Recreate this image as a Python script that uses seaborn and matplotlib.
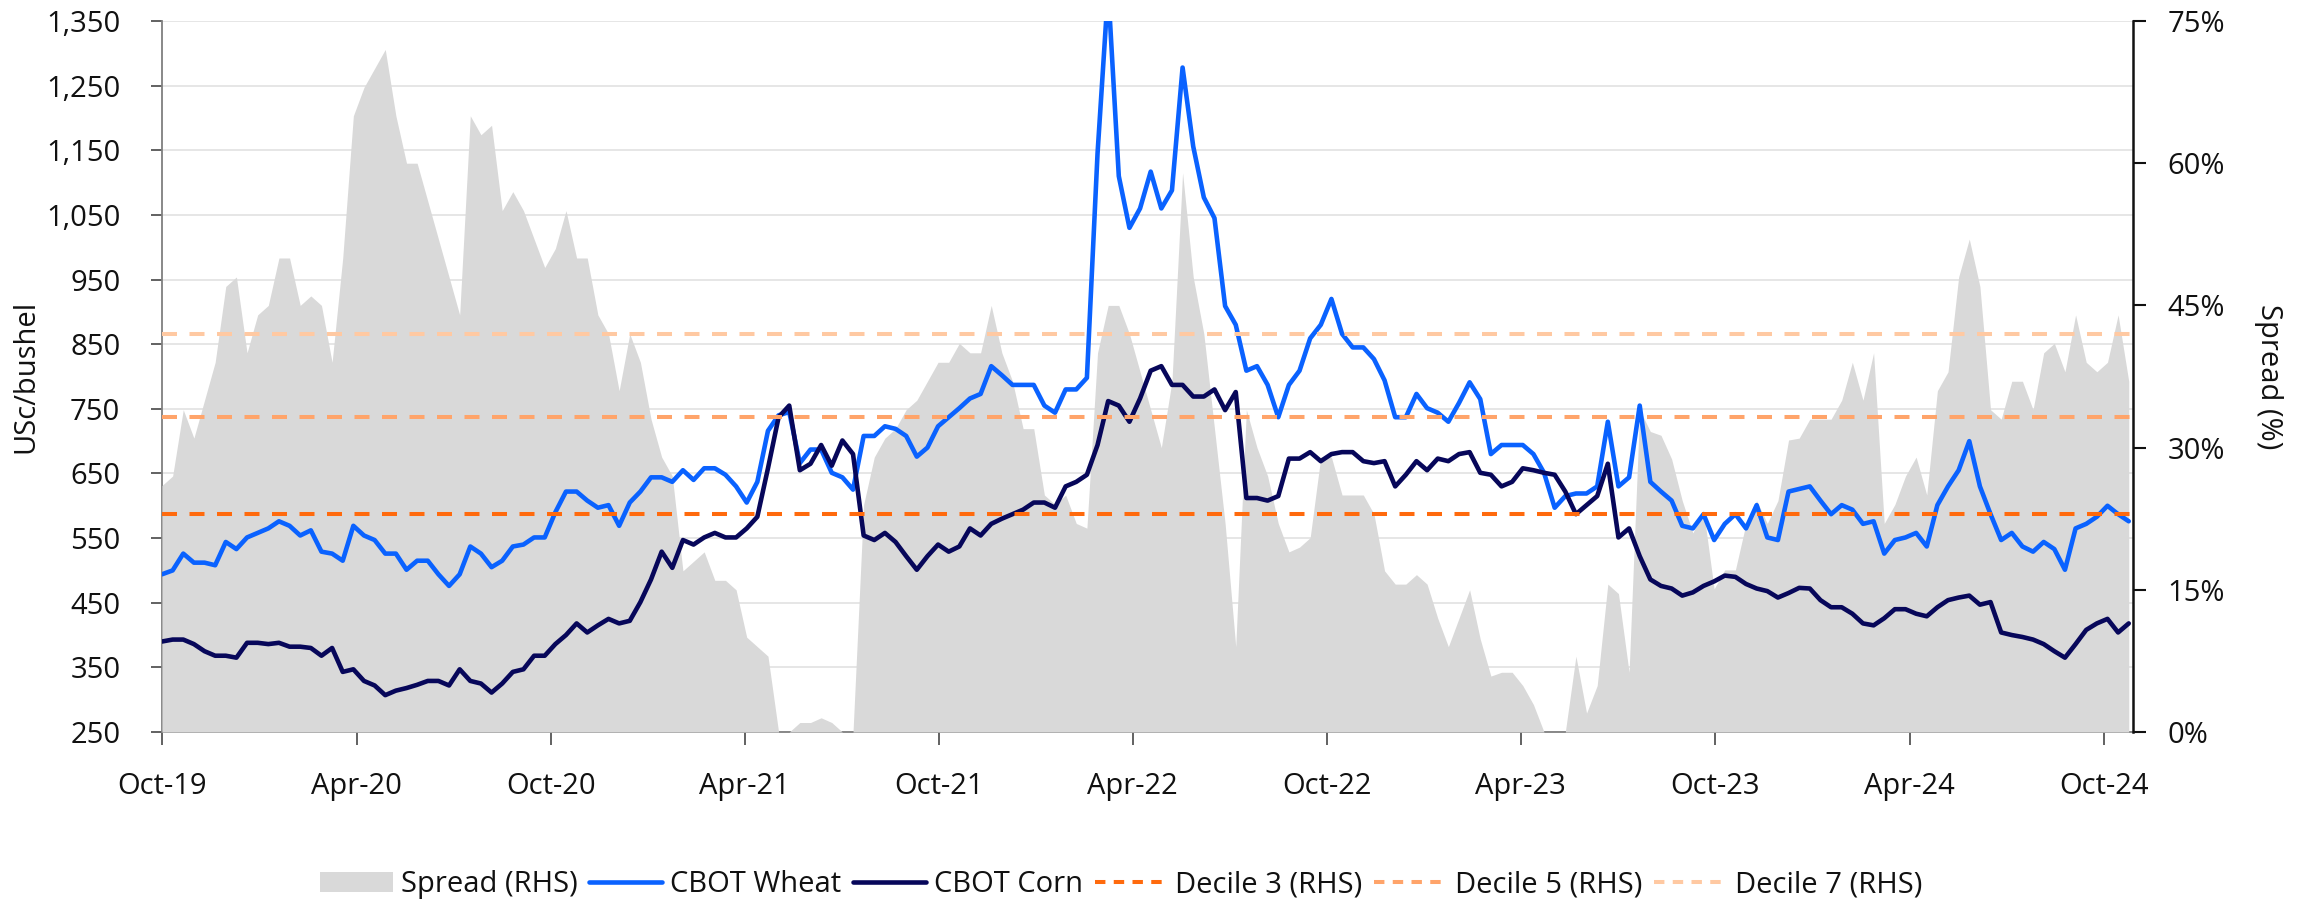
import matplotlib
matplotlib.use("Agg")
import numpy as np
import pandas as pd
import matplotlib.pyplot as plt
import matplotlib.dates as mdates
from matplotlib.ticker import FuncFormatter, FixedLocator
from matplotlib.patches import Patch
from matplotlib.lines import Line2D
import seaborn as sns

# ---------------- data (one value every 10 days) ----------------
start_date = "2019-10-01"
end_date = "2024-10-28"
step_days = 10

wheat = [
    494, 500, 526, 512, 512, 508, 544, 533, 551, 558,
    565, 576, 569, 554, 562, 529, 526, 515, 569, 554,
    547, 526, 526, 501, 515, 515, 494, 476, 494, 537,
    526, 505, 515, 537, 540, 551, 551, 590, 622, 622,
    608, 597, 601, 569, 605, 622, 644, 644, 637, 655,
    640, 658, 658, 648, 630, 605, 637, 716, 740, 745,
    666, 687, 687, 651, 644, 625, 708, 708, 723, 719,
    708, 676, 690, 723, 737, 751, 766, 773, 816, 802,
    787, 787, 787, 755, 744, 780, 780, 798, 1145, 1400,
    1110, 1030, 1060, 1117, 1060, 1088, 1278, 1156, 1077, 1045,
    909, 880, 809, 816, 787, 737, 787, 809, 859, 880,
    920, 866, 845, 845, 827, 794, 737, 737, 773, 751,
    744, 730, 759, 791, 765, 680, 694, 694, 694, 680,
    651, 597, 615, 619, 619, 630, 730, 630, 644, 755,
    637, 622, 608, 569, 565, 587, 547, 572, 587, 565,
    601, 551, 547, 622, 626, 630, 608, 587, 601, 594,
    572, 576, 526, 547, 551, 558, 537, 601, 630, 655,
    700, 630, 587, 547, 558, 537, 529, 544, 533, 501,
    565, 572, 583, 600, 587, 576,
]

corn = [
    390, 393, 393, 386, 375, 368, 368, 365, 388, 388,
    386, 388, 382, 382, 380, 368, 380, 343, 347, 329,
    322, 307, 314, 318, 323, 329, 329, 322, 347, 329,
    325, 311, 325, 343, 347, 368, 368, 386, 400, 418,
    404, 415, 425, 418, 422, 451, 486, 529, 504, 547,
    540, 551, 558, 551, 551, 565, 583, 658, 737, 755,
    655, 665, 694, 662, 701, 680, 554, 547, 558, 544,
    522, 501, 522, 540, 529, 537, 565, 554, 572, 580,
    587, 594, 605, 605, 597, 630, 637, 648, 694, 762,
    755, 730, 766, 809, 816, 787, 787, 769, 769, 780,
    748, 776, 612, 612, 608, 615, 673, 673, 683, 669,
    680, 683, 683, 669, 666, 669, 630, 648, 669, 655,
    673, 669, 680, 683, 651, 648, 630, 637, 658, 655,
    651, 648, 622, 587, 601, 615, 665, 551, 565, 522,
    486, 476, 472, 461, 466, 476, 483, 492, 490, 479,
    472, 468, 458, 465, 473, 472, 454, 443, 443, 433,
    418, 415, 426, 440, 440, 433, 429, 443, 454, 458,
    461, 447, 451, 404, 400, 397, 393, 386, 375, 365,
    386, 408, 418, 425, 404, 418,
]

spread = [
    26, 27, 34, 31, 35, 39, 47, 48, 40, 44,
    45, 50, 50, 45, 46, 45, 39, 50, 65, 68,
    70, 72, 65, 60, 60, 56, 52, 48, 44, 65,
    63, 64, 55, 57, 55, 52, 49, 51, 55, 50,
    50, 44, 42, 36, 42, 39, 33, 29, 27, 17,
    18, 19, 16, 16, 15, 10, 9, 8, 0, 0,
    1, 1, 1.5, 1, 0, 0, 24, 29, 31, 32,
    34, 35, 37, 39, 39, 41, 40, 40, 45, 40,
    37, 32, 32, 25, 24, 25, 22, 21.5, 40, 45,
    45, 42, 38, 34, 30, 37, 59, 48, 42, 32,
    22, 9, 34, 30, 27, 22, 19, 19.5, 20.5, 29,
    29, 25, 25, 25, 23, 17, 15.6, 15.6, 16.6, 15.6,
    12, 9, 12, 15, 9.8, 5.9, 6.3, 6.3, 4.9, 2.9,
    0, 0, 0, 8, 2, 4.9, 15.6, 14.6, 6.3, 34,
    31.7, 31.3, 28.8, 24.4, 21, 23.4, 15.1, 17.1, 17.1, 22,
    24.4, 22, 24.4, 30.8, 31, 33, 33, 33, 35, 39,
    35, 40, 22, 24, 27, 29, 25, 36, 38, 48,
    52, 47, 34, 33, 37, 37, 34, 40, 41, 38,
    44, 39, 38, 39, 44, 37,
]

decile_labels = ["Decile 3 (RHS)", "Decile 5 (RHS)", "Decile 7 (RHS)"]
decile_values = [23.0, 33.2, 42.0]

left_ticks = [250, 350, 450, 550, 650, 750, 850, 950, 1050, 1150, 1250, 1350]
right_ticks = [0, 15, 30, 45, 60, 75]

# ---------------- style ----------------
WHEAT_C = "#0A62FF"
CORN_C = "#07075A"
FILL_C = "#D9D9D9"
DECILE_C = ["#FF6A0D", "#FFA46A", "#FFC9A2"]
TEXT_C = "#111111"
FS = 21
LW = 3.3

sns.set_theme(style="white")
plt.rcParams["font.family"] = ["Open Sans", "DejaVu Sans"]
plt.rcParams["lines.scale_dashes"] = False

dates = pd.date_range(start_date, periods=len(wheat), freq=f"{step_days}D")
df = pd.DataFrame({"date": dates, "CBOT Wheat": wheat, "CBOT Corn": corn, "Spread": spread})

fig = plt.figure(figsize=(23, 9.02), dpi=100)
ax = fig.add_axes([162 / 2300, 1 - 732 / 902, (2133 - 162) / 2300, (732 - 21) / 902])
ax_fill = ax.twinx()
ax_lines = ax.twinx()
ax_dec = ax.twinx()

x0, x1 = pd.Timestamp(start_date), pd.Timestamp(end_date)

# base axis: grid + left and bottom axes
ax.set_xlim(x0, x1)
ax.set_ylim(250, 1350)
ax.yaxis.set_major_locator(FixedLocator(left_ticks))
ax.yaxis.set_major_formatter(FuncFormatter(lambda v, p: f"{v:,.0f}"))
ax.yaxis.grid(True, color="#E4E4E4", lw=1.3)
ax.xaxis.grid(False)
ax.xaxis.set_major_locator(mdates.MonthLocator(bymonth=[4, 10]))
ax.xaxis.set_major_formatter(mdates.DateFormatter("%b-%y"))
for s in ["top", "right"]:
    ax.spines[s].set_visible(False)
ax.spines["left"].set_color("#7F7F7F")
ax.spines["bottom"].set_color("#7F7F7F")
ax.spines["left"].set_linewidth(1.3)
ax.spines["bottom"].set_linewidth(1.3)
ax.tick_params(axis="y", which="major", direction="out", length=8, width=1.3,
               color="#555555", labelsize=FS, labelcolor=TEXT_C, pad=22, left=True)
ax.tick_params(axis="x", which="major", direction="out", length=9, width=1.3,
               color="#555555", labelsize=FS, labelcolor=TEXT_C, pad=20, bottom=True)
ax.set_ylabel("USc/bushel", fontsize=FS, color=TEXT_C)
ax.yaxis.set_label_coords(-0.0619, 0.5)
ax.set_xlabel("")

# spread area (RHS)
ax_fill.fill_between(df["date"], 0, df["Spread"], color=FILL_C, lw=0)
ax_fill.set_ylim(0, 75)
ax_fill.set_xlim(x0, x1)
ax_fill.axis("off")

# price lines (LHS scale)
sns.lineplot(data=df, x="date", y="CBOT Wheat", ax=ax_lines, color=WHEAT_C, linewidth=LW)
sns.lineplot(data=df, x="date", y="CBOT Corn", ax=ax_lines, color=CORN_C, linewidth=LW)
ax_lines.set_ylim(250, 1350)
ax_lines.set_xlim(x0, x1)
ax_lines.axis("off")

# decile lines (dash pattern in points) + right axis
DASH = (10.8, 9.0)
for val, col in zip(decile_values, DECILE_C):
    ax_dec.axhline(val, color=col, linewidth=2.9, linestyle=(0, DASH))
ax_dec.set_ylim(0, 75)
ax_dec.set_xlim(x0, x1)
ax_dec.yaxis.set_major_locator(FixedLocator(right_ticks))
ax_dec.yaxis.set_major_formatter(FuncFormatter(lambda v, p: f"{v:.0f}%"))
for s in ["top", "left", "bottom"]:
    ax_dec.spines[s].set_visible(False)
ax_dec.spines["right"].set_color("#111111")
ax_dec.spines["right"].set_linewidth(1.8)
ax_dec.tick_params(axis="y", which="major", direction="out", length=9, width=1.5,
                   color="#111111", labelsize=FS, labelcolor=TEXT_C, pad=16, right=True)
ax_dec.set_ylabel("Spread (%)", fontsize=FS, color=TEXT_C, rotation=270, va="bottom")
ax_dec.yaxis.set_label_coords(1.0614, 0.5)

# legend
handles = [
    Patch(facecolor=FILL_C, edgecolor="none", label="Spread (RHS)"),
    Line2D([0], [0], color=WHEAT_C, linewidth=LW, label="CBOT Wheat"),
    Line2D([0], [0], color=CORN_C, linewidth=LW, label="CBOT Corn"),
]
for lab, col in zip(decile_labels, DECILE_C):
    handles.append(Line2D([0], [0], color=col, linewidth=2.9, linestyle=(0, (7.5, 6.0)), label=lab))
leg = fig.legend(handles=handles, loc="center", bbox_to_anchor=(0.4875, 0.019), ncol=6,
                 frameon=False, fontsize=FS, handlelength=2.5, handletextpad=0.27,
                 columnspacing=0.4, borderaxespad=0)
for t in leg.get_texts():
    t.set_color(TEXT_C)

fig.savefig("out.png", dpi=100)
